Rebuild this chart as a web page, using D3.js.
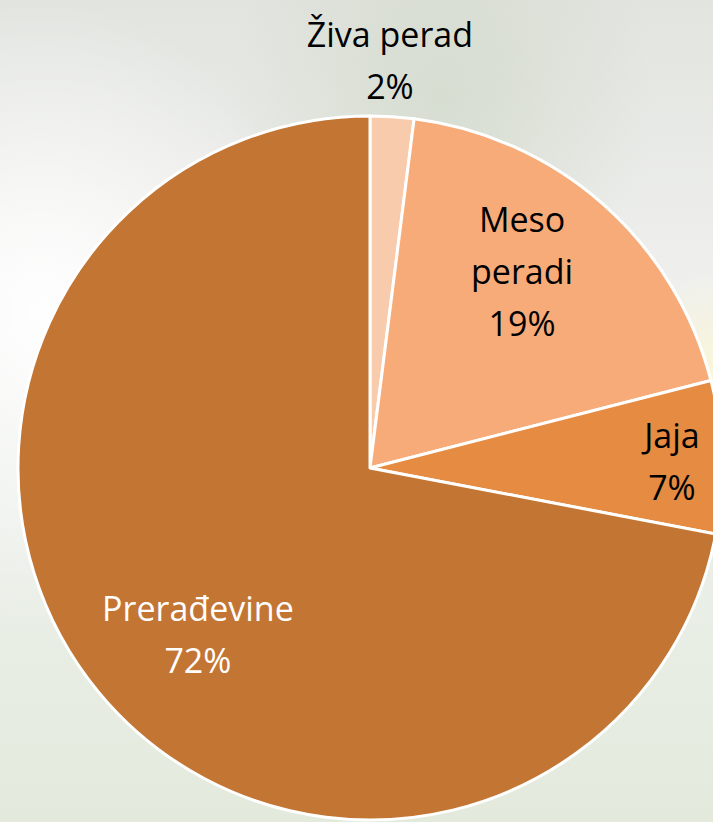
<!DOCTYPE html>
<html>
<head>
<meta charset="utf-8">
<script src="https://cdn.jsdelivr.net/npm/d3@7"></script>
<style>
  html, body { margin: 0; padding: 0; overflow: hidden; }
  body { width: 713px; height: 822px; }
</style>
</head>
<body>
<div id="chart"></div>
<script>
// chart values
var categories = ["Živa perad", "Meso peradi", "Jaja", "Prerađevine"];
var shares = [2, 19, 7, 72];
var colors = ["#F8CBAD", "#F7AB79", "#E58B42", "#C37534"];
var labelLines = [["Živa perad"], ["Meso", "peradi"], ["Jaja"], ["Prerađevine"]];

var width = 713, height = 822;
var cx = 370, cy = 468, radius = 352;

// label placement: radial factor and angular nudge (degrees)
var labelFactor = [1.158, 0.705, 0.858, 0.682];
var labelNudge = [-0.8, -3.6, 0.6, -4.6];

var svg = d3.select("#chart")
    .append("svg")
    .attr("width", width)
    .attr("height", height);

// blurry photo-like backdrop
var defs = svg.append("defs");
var bg = defs.append("linearGradient").attr("id", "bg")
    .attr("x1", 0).attr("y1", 0).attr("x2", 0).attr("y2", 1);
bg.append("stop").attr("offset", "0%").attr("stop-color", "#e2e4df");
bg.append("stop").attr("offset", "35%").attr("stop-color", "#eff0ee");
bg.append("stop").attr("offset", "75%").attr("stop-color", "#e9eee6");
bg.append("stop").attr("offset", "100%").attr("stop-color", "#e3eadc");

var glow = defs.append("radialGradient").attr("id", "glowL")
    .attr("cx", 0.06).attr("cy", 0.38).attr("r", 0.38);
glow.append("stop").attr("offset", "0%").attr("stop-color", "#ffffff").attr("stop-opacity", 0.95);
glow.append("stop").attr("offset", "100%").attr("stop-color", "#ffffff").attr("stop-opacity", 0);

var green = defs.append("radialGradient").attr("id", "greenT")
    .attr("cx", 0.62).attr("cy", 0.12).attr("r", 0.3);
green.append("stop").attr("offset", "0%").attr("stop-color", "#cfd8c8").attr("stop-opacity", 0.7);
green.append("stop").attr("offset", "100%").attr("stop-color", "#cfd8c8").attr("stop-opacity", 0);

var sun = defs.append("radialGradient").attr("id", "sunR")
    .attr("cx", 1.0).attr("cy", 0.45).attr("r", 0.12);
sun.append("stop").attr("offset", "0%").attr("stop-color", "#fbf6d8").attr("stop-opacity", 0.9);
sun.append("stop").attr("offset", "100%").attr("stop-color", "#fbf6d8").attr("stop-opacity", 0);

["bg", "glowL", "greenT", "sunR"].forEach(function (id) {
    svg.append("rect")
        .attr("width", width)
        .attr("height", height)
        .attr("fill", "url(#" + id + ")");
});

var pie = d3.pie()
    .sort(null)
    .value(function (d) { return d; });

var arcs = pie(shares);

var arc = d3.arc()
    .innerRadius(0)
    .outerRadius(radius);

var g = svg.append("g")
    .attr("transform", "translate(" + cx + "," + cy + ")");

g.selectAll(".slice")
    .data(arcs)
    .enter()
    .append("path")
    .attr("class", "slice")
    .attr("d", arc)
    .attr("fill", function (d, i) { return colors[i]; })
    .attr("stroke", "#ffffff")
    .attr("stroke-width", 3)
    .attr("stroke-linejoin", "round");

// data labels
var lineH = 52;
var label = g.selectAll(".label")
    .data(arcs)
    .enter()
    .append("text")
    .attr("class", "label")
    .attr("text-anchor", "middle")
    .style("font-family", "'Open Sans', 'Noto Sans', sans-serif")
    .style("font-size", "34px")
    .attr("fill", function (d, i) { return i === 3 ? "#ffffff" : "#000000"; })
    .attr("transform", function (d, i) {
        var a = (d.startAngle + d.endAngle) / 2 + labelNudge[i] * Math.PI / 180;
        var r = radius * labelFactor[i];
        return "translate(" + (Math.sin(a) * r) + "," + (-Math.cos(a) * r) + ")";
    });

label.each(function (d, i) {
    var lines = labelLines[i].concat([d3.format(".0f")(d.value) + "%"]);
    var t = d3.select(this);
    var top = -(lines.length - 1) * lineH / 2;
    lines.forEach(function (s, k) {
        t.append("tspan")
            .attr("x", 0)
            .attr("y", top + k * lineH)
            .attr("dy", "0.35em")
            .text(s);
    });
});
</script>
</body>
</html>
